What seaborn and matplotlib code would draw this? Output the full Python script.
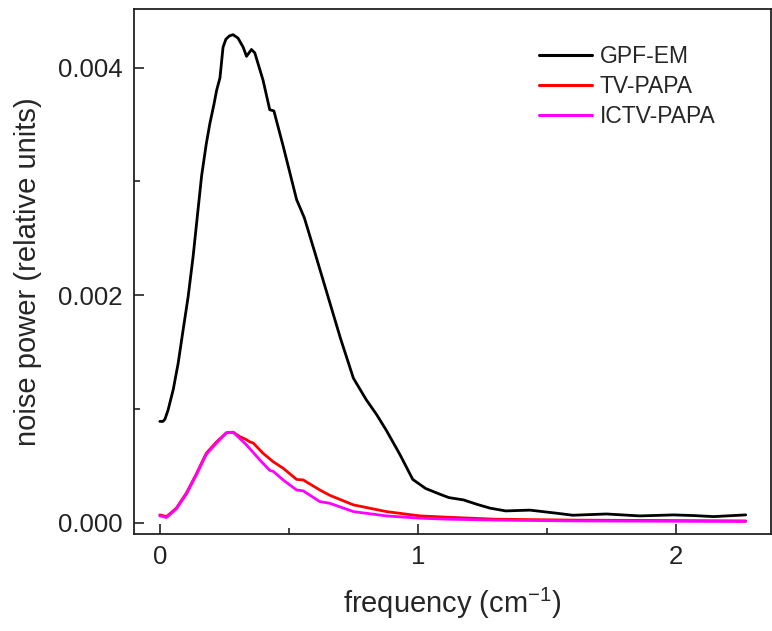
import numpy as np
import pandas as pd
import matplotlib
matplotlib.use("Agg")
import matplotlib.pyplot as plt
import seaborn as sns
from matplotlib.ticker import MultipleLocator, FormatStrFormatter

# ---- data ----
gpf_x = [0.0, 0.012, 0.02, 0.032, 0.052, 0.071, 0.09, 0.11, 0.129, 0.148, 0.162,
         0.18, 0.194, 0.21, 0.22, 0.233, 0.245, 0.256, 0.27, 0.284, 0.303, 0.323,
         0.336, 0.355, 0.368, 0.40, 0.426, 0.442, 0.478, 0.53, 0.56, 0.60, 0.65,
         0.70, 0.75, 0.80, 0.84, 0.878, 0.93, 0.98, 1.03, 1.085, 1.12, 1.176, 1.23,
         1.28, 1.34, 1.434, 1.54, 1.60, 1.73, 1.86, 1.99, 2.07, 2.145, 2.27]
gpf_y = [0.00089, 0.00089, 0.00091, 0.00099, 0.00117, 0.00140, 0.00169, 0.00199,
         0.00234, 0.00275, 0.00305, 0.00333, 0.00351, 0.00368, 0.00380, 0.00391,
         0.00418, 0.00425, 0.00428, 0.00429, 0.00426, 0.00418, 0.00410, 0.00416,
         0.00413, 0.00389, 0.00363, 0.00362, 0.00331, 0.00284, 0.00268, 0.00238,
         0.00200, 0.00162, 0.00127, 0.00108, 0.00095, 0.00081, 0.00060, 0.00038,
         0.00030, 0.00025, 0.00022, 0.00020, 0.00016, 0.000127, 0.000103, 0.00011,
         0.000082, 0.000065, 0.000076, 0.000059, 0.000068, 0.000062, 0.000053,
         0.000068]

tv_x = [0.0, 0.026, 0.064, 0.103, 0.142, 0.18, 0.22, 0.258, 0.284, 0.31, 0.335,
        0.349, 0.362, 0.40, 0.439, 0.478, 0.53, 0.556, 0.62, 0.659, 0.75, 0.878,
        1.008, 1.12, 1.3, 1.6, 2.0, 2.27]
tv_y = [0.000068, 0.000053, 0.000127, 0.00026, 0.00043, 0.00061, 0.00071, 0.00079,
        0.000795, 0.000756, 0.00073, 0.00071, 0.00070, 0.00061, 0.000536, 0.000478,
        0.00038, 0.000375, 0.000287, 0.00024, 0.000156, 0.000097, 0.000059,
        0.000047, 0.00003, 0.000022, 0.000018, 0.000015]

ictv_x = [0.0, 0.026, 0.064, 0.103, 0.142, 0.18, 0.22, 0.258, 0.284, 0.31, 0.336,
          0.388, 0.426, 0.44, 0.478, 0.53, 0.556, 0.62, 0.659, 0.75, 0.878, 1.008,
          1.12, 1.3, 1.6, 2.0, 2.27]
ictv_y = [0.00006, 0.000045, 0.00012, 0.00025, 0.00042, 0.0006, 0.0007, 0.00079,
          0.000795, 0.00074, 0.000683, 0.00055, 0.00046, 0.00045, 0.000375,
          0.000287, 0.000279, 0.000185, 0.00017, 0.000097, 0.000059, 0.000039,
          0.00003, 0.000022, 0.000015, 0.000012, 0.00001]

series_names = ["GPF-EM", "TV-PAPA", "ICTV-PAPA"]
series_colors = ["#000000", "#ff0000", "#ff00ff"]

df = pd.concat([
    pd.DataFrame({"x": gpf_x, "y": gpf_y, "series": series_names[0]}),
    pd.DataFrame({"x": tv_x, "y": tv_y, "series": series_names[1]}),
    pd.DataFrame({"x": ictv_x, "y": ictv_y, "series": series_names[2]}),
], ignore_index=True)

sns.set_style("white")
plt.rcParams["font.family"] = ["Liberation Sans", "DejaVu Sans"]

fig = plt.figure(figsize=(7.72, 6.31), dpi=100)
ax = fig.add_axes([134 / 772, 1 - 534 / 631, (771 - 134) / 772, (534 - 9) / 631])

sns.lineplot(data=df, x="x", y="y", hue="series", hue_order=series_names,
             palette=dict(zip(series_names, series_colors)), estimator=None,
             sort=True, linewidth=2.0, ax=ax)

ax.set_xlim(-0.1, 2.368)
ax.set_ylim(-0.0001, 0.004516)

ax.xaxis.set_major_locator(MultipleLocator(1))
ax.xaxis.set_minor_locator(MultipleLocator(0.5))
ax.yaxis.set_major_locator(MultipleLocator(0.002))
ax.yaxis.set_minor_locator(MultipleLocator(0.001))
ax.xaxis.set_major_formatter(FormatStrFormatter("%d"))
ax.yaxis.set_major_formatter(FormatStrFormatter("%.3f"))

ax.tick_params(which="both", direction="in", top=False, right=False,
               bottom=True, left=True, width=1.2, colors="#222222")
ax.tick_params(which="major", length=7, labelsize=18.5, pad=8)
ax.tick_params(which="minor", length=4)
for s in ax.spines.values():
    s.set_linewidth(1.3)
    s.set_color("#222222")

ax.set_xlabel("frequency (cm$^{\\mathregular{-1}}$)", fontsize=21, labelpad=12)
ax.set_ylabel("noise power (relative units)", fontsize=21, labelpad=12)

leg = ax.legend(loc="upper left", bbox_to_anchor=(530 / 772, 1 - 36 / 631),
                bbox_transform=fig.transFigure, frameon=False, fontsize=16.5,
                handlelength=2.3, handletextpad=0.35, labelspacing=0.3,
                borderaxespad=0)
for line in leg.get_lines():
    line.set_linewidth(2.2)

fig.savefig("out.png", dpi=100)
